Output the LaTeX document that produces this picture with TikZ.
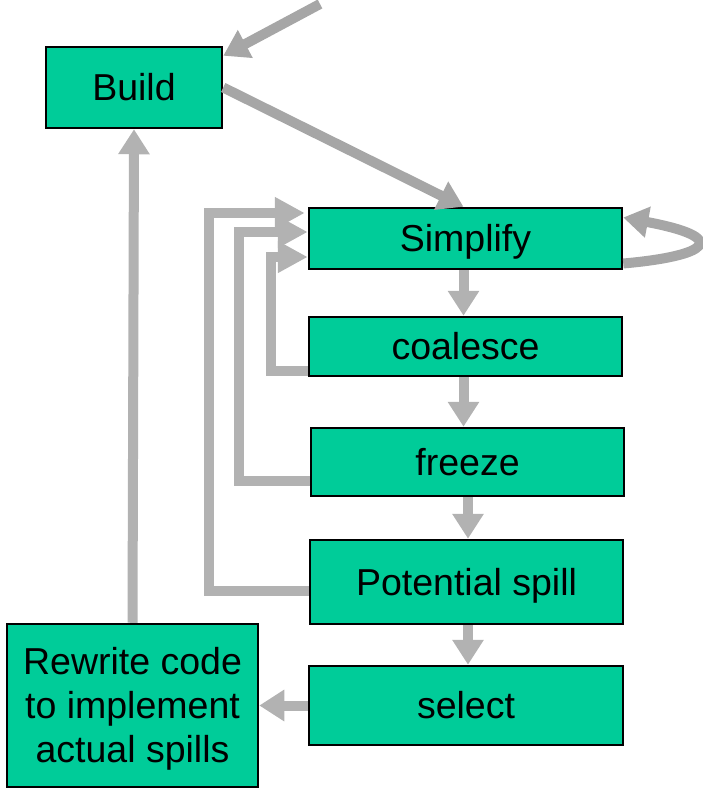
\documentclass[tikz,border=0pt]{standalone}
\usepackage{fontspec}
\setmainfont{Liberation Sans}
\usetikzlibrary{arrows.meta,calc}
\definecolor{boxgreen}{HTML}{00CC99}
\definecolor{darkarr}{HTML}{A6A6A6}
\definecolor{lightarr}{HTML}{B2B2B2}
\tikzset{
  stage/.style={draw=black, line width=2.5pt, fill=boxgreen, inner sep=0pt,
    text height=26pt, text depth=0pt, font=\fontsize{37.5}{44}\selectfont},
  conn/.style={line width=10pt, color=lightarr, -{Triangle[width=30pt,length=25pt]}},
  dconn/.style={conn, color=darkarr},
  fb/.style={line width=10pt, color=lightarr, -{Triangle[width=30pt,length=30pt]}}
}
\begin{document}
\begin{tikzpicture}[x=1pt,y=-1pt]
\useasboundingbox (0,0) rectangle (703,789);
\node[stage, minimum width=176pt, minimum height=81pt] (build) at (134,87.5) {Build};
\node[stage, minimum width=313pt, minimum height=61pt] (simplify) at (465.5,238.5) {Simplify};
\node[stage, minimum width=313pt, minimum height=59pt] (coalesce) at (465.5,346.5) {coalesce};
\node[stage, minimum width=313pt, minimum height=68pt] (freeze) at (467.5,462) {freeze};
\node[stage, minimum width=313pt, minimum height=84pt] (spill) at (466.5,582) {Potential spill};
\node[stage, minimum width=314pt, minimum height=79pt] (select) at (466,705.5) {select};
\node[stage, minimum width=251pt, minimum height=163pt, align=center,
  text height=114pt, text depth=1pt] (rewrite) at (132.5,705.5)
  {Rewrite code\\to implement\\actual spills};
% incoming
\coordinate (entry) at (320,4);
\draw[dconn] (entry) -- ($(build.north east)+(0,10)$);
% build -> simplify
\draw[dconn] (build.east) -- ($(simplify.north)+(-2,0)$);
% self loop
\draw[dconn] ($(simplify.east)+(0,25)$) .. controls (708,256) and (732,238) .. ($(simplify.east)+(0,-21)$);
% downward chain
\draw[conn] ($(simplify.south)+(-2,0)$) -- ($(coalesce.north)+(-2,0)$);
\draw[conn] ($(coalesce.south)+(-2,0)$) -- ($(freeze.north)+(-4,0)$);
\draw[conn] ($(freeze.south)+(0.5,0)$) -- ($(spill.north)+(1.5,0)$);
\draw[conn] ($(spill.south)+(1.5,0)$) -- ($(select.north)+(2,0)$);
% select -> rewrite
\draw[conn] (select.west) -- (rewrite.east);
% rewrite -> build
\draw[conn] (rewrite.north) -- (build.south);
% feedback loops
\draw[fb] ($(coalesce.west)+(0,24.5)$) -| ($(simplify.west)+(-37,18.5)$) -- ($(simplify.west)+(0,18.5)$);
\draw[fb] ($(freeze.west)+(0,19)$) -| ($(simplify.west)+(-69,-6.5)$) -- ($(simplify.west)+(0,-6.5)$);
\draw[fb] ($(spill.west)+(0,9)$) -| ($(simplify.west)+(-99,-25.5)$) -- ($(simplify.west)+(-3,-25.5)$);
\end{tikzpicture}
\end{document}
